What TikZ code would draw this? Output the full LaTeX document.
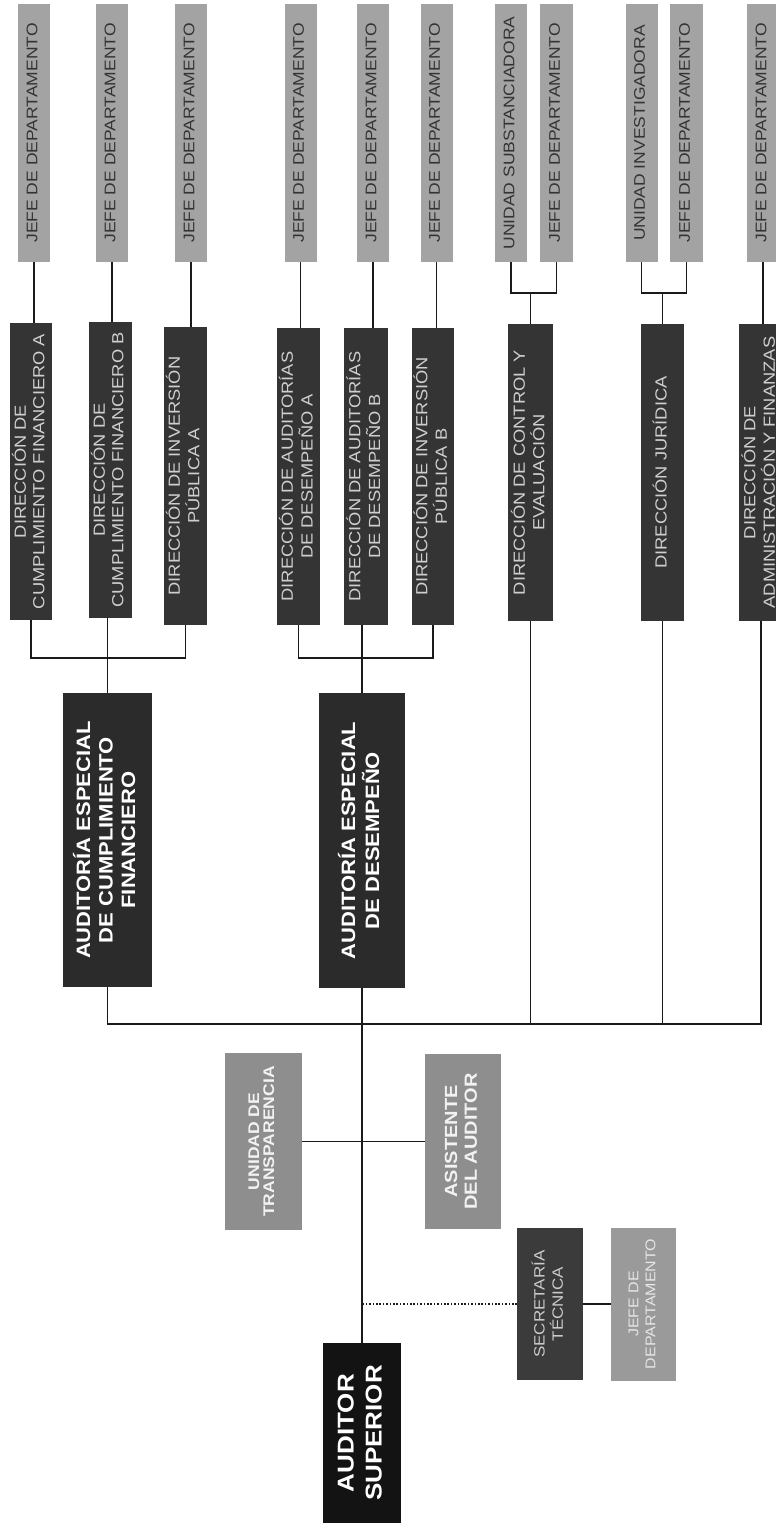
\documentclass[tikz,border=0pt]{standalone}
\usepackage{fontspec}
\setmainfont{Liberation Sans}
\usepackage{graphicx}
\newcommand{\sqz}[1]{\scalebox{1}[0.88]{\begin{tabular}{@{}c@{}}#1\end{tabular}}}
\definecolor{jgray}{HTML}{A3A3A3}
\definecolor{jtext}{HTML}{333333}
\definecolor{dgray}{HTML}{343434}
\definecolor{dtext}{HTML}{CFCFCF}
\definecolor{aegray}{HTML}{2B2B2B}
\definecolor{asblack}{HTML}{131313}
\definecolor{ugray}{HTML}{8E8E8E}
\definecolor{utext}{HTML}{F2F2F2}
\definecolor{secgray}{HTML}{3B3B3B}
\definecolor{sectext}{HTML}{CCCCCC}
\definecolor{jsgray}{HTML}{9A9A9A}
\definecolor{jstext}{HTML}{E6E6E6}
\definecolor{lcol}{HTML}{1A1A1A}
\tikzset{
  box/.style={rotate=90, inner sep=0pt, outer sep=0pt, anchor=center},
  jefe/.style={box, fill=jgray, text=jtext, minimum width=258pt, font=\fontsize{17.5}{19}\selectfont},
  dir/.style={box, fill=dgray, text=dtext, font=\fontsize{18.3}{21}\selectfont},
  aebox/.style={box, fill=aegray, text=white, font=\bfseries\fontsize{22}{25.6}\selectfont},
  asbox/.style={box, fill=asblack, text=white, font=\bfseries\fontsize{26}{31.8}\selectfont},
  ubox/.style={box, fill=ugray, text=utext},
  secbox/.style={box, fill=secgray, text=sectext, font=\fontsize{17}{20.5}\selectfont},
  jsbox/.style={box, fill=jsgray, text=jstext, font=\fontsize{16}{19.3}\selectfont},
  conn/.style={line width=1.8pt, draw=lcol},
  dotconn/.style={line width=1.6pt, draw=lcol, dash pattern=on 1.6pt off 1.8pt},
}
\begin{document}
\begin{tikzpicture}[x=1pt, y=-1pt]
\fill[white] (0,0) rectangle (776,1529);
\useasboundingbox (0,0) rectangle (776,1529);

% top row: jefes / unidades
\node[jefe, minimum height=32pt] (j1) at (34,133) {\sqz{JEFE DE DEPARTAMENTO}};
\node[jefe, minimum height=32pt] (j2) at (112,133) {\sqz{JEFE DE DEPARTAMENTO}};
\node[jefe, minimum height=32pt] (j3) at (191,133) {\sqz{JEFE DE DEPARTAMENTO}};
\node[jefe, minimum height=32pt] (j4) at (300.5,133) {\sqz{JEFE DE DEPARTAMENTO}};
\node[jefe, minimum height=32pt] (j5) at (373,133) {\sqz{JEFE DE DEPARTAMENTO}};
\node[jefe, minimum height=32pt] (j6) at (436.5,133) {\sqz{JEFE DE DEPARTAMENTO}};
\node[jefe, minimum height=32pt] (u1) at (511,133) {\sqz{UNIDAD SUBSTANCIADORA}};
\node[jefe, minimum height=33pt] (j7) at (556.5,133) {\sqz{JEFE DE DEPARTAMENTO}};
\node[jefe, minimum height=32pt] (u2) at (641.5,133) {\sqz{UNIDAD INVESTIGADORA}};
\node[jefe, minimum height=33pt] (j8) at (686.5,133) {\sqz{JEFE DE DEPARTAMENTO}};
\node[jefe, minimum height=32pt] (j9) at (763,133) {\sqz{JEFE DE DEPARTAMENTO}};

% direcciones
\node[dir, minimum width=297pt, minimum height=42pt] (d1) at (31,471.5) {\sqz{DIRECCIÓN DE\\CUMPLIMIENTO FINANCIERO A}};
\node[dir, minimum width=296pt, minimum height=43pt] (d2) at (110,470) {\sqz{DIRECCIÓN DE\\CUMPLIMIENTO FINANCIERO B}};
\node[dir, minimum width=298pt, minimum height=43pt] (d3) at (185.5,476) {\sqz{DIRECCIÓN DE INVERSIÓN\\PÚBLICA A}};
\node[dir, minimum width=297pt, minimum height=43pt] (d4) at (298.5,476.5) {\sqz{DIRECCIÓN DE AUDITORÍAS\\DE DESEMPEÑO A}};
\node[dir, minimum width=297pt, minimum height=44pt] (d5) at (366,476.5) {\sqz{DIRECCIÓN DE AUDITORÍAS\\DE DESEMPEÑO B}};
\node[dir, minimum width=297pt, minimum height=42pt] (d6) at (433,476.5) {\sqz{DIRECCIÓN DE INVERSIÓN\\PÚBLICA B}};
\node[dir, minimum width=297pt, minimum height=45pt] (d7) at (530.5,472.5) {\sqz{DIRECCIÓN DE CONTROL Y\\EVALUACIÓN}};
\node[dir, minimum width=297pt, minimum height=43pt] (d8) at (662.5,472.5) {\sqz{DIRECCIÓN JURÍDICA}};
\node[dir, minimum width=297pt, minimum height=44pt] (d9) at (761,472.5) {\sqz{DIRECCIÓN DE\\ADMINISTRACIÓN Y FINANZAS}};

% auditorias especiales
\node[aebox, minimum width=294pt, minimum height=89pt] (ae1) at (107.5,840) {\sqz{AUDITORÍA ESPECIAL\\DE CUMPLIMIENTO\\FINANCIERO}};
\node[aebox, minimum width=295pt, minimum height=86pt] (ae2) at (362,840.5) {\sqz{AUDITORÍA ESPECIAL\\DE DESEMPEÑO}};

% staff units
\node[ubox, minimum width=177pt, minimum height=77pt, font=\bfseries\fontsize{17.5}{16.5}\selectfont] (ut) at (263.5,1141.5) {\sqz{UNIDAD DE\\TRANSPARENCIA}};
\node[ubox, minimum width=175pt, minimum height=76pt, font=\bfseries\fontsize{20}{22.7}\selectfont] (asis) at (463,1141.5) {\sqz{ASISTENTE\\DEL AUDITOR}};

% auditor superior
\node[asbox, minimum width=180pt, minimum height=78pt] (as) at (362,1433) {\sqz{AUDITOR\\SUPERIOR}};

% secretaria tecnica
\node[secbox, minimum width=152pt, minimum height=66pt] (sec) at (550,1304) {\sqz{SECRETARÍA\\TÉCNICA}};
\node[jsbox, minimum width=153pt, minimum height=65pt] (js) at (643.5,1304) {\sqz{JEFE DE\\DEPARTAMENTO}};

% connectors: jefes to direcciones
\foreach \a/\b in {j1/d1,j2/d2,j3/d3,j4/d4,j5/d5,j6/d6,j9/d9}
  \draw[conn] (\a.west) -- (\a.west |- \b.east);
\coordinate (k7) at (530.5,293);
\coordinate (k8) at (662.5,293);
\draw[conn] (d7.east) -- (d7.east |- k7);
\draw[conn] (u1.west) -- (u1.west |- k7) -- (j7.west |- k7) -- (j7.west);
\draw[conn] (d8.east) -- (d8.east |- k8);
\draw[conn] (u2.west) -- (u2.west |- k8) -- (j8.west |- k8) -- (j8.west);

% direcciones to auditorias especiales
\coordinate (g1) at (0,658);
\draw[conn] (d1.west) -- (d1.west |- g1) -- (d3.west |- g1) -- (d3.west);
\draw[conn] (ae1.east) -- (ae1.east |- d2.west);
\draw[conn] (d4.west) -- (d4.west |- g1) -- (d6.west |- g1) -- (d6.west);
\draw[conn] (ae2.east) -- (ae2.east |- d5.west);

% main bus
\coordinate (g2) at (0,1024);
\draw[conn] (ae1.west) -- (ae1.west |- g2) -- (d9.west |- g2) -- (d9.west);
\draw[conn] (d7.west) -- (d7.west |- g2);
\draw[conn] (d8.west) -- (d8.west |- g2);
\draw[conn] (ae2.west) -- (ae2.west |- as.east);

% staff connectors
\draw[conn] (ut.south) -- (asis.north);
\draw[dotconn] (sec.north) -- (sec.north -| as.east);
\draw[conn] (sec.south) -- (js.north);
\end{tikzpicture}
\end{document}
